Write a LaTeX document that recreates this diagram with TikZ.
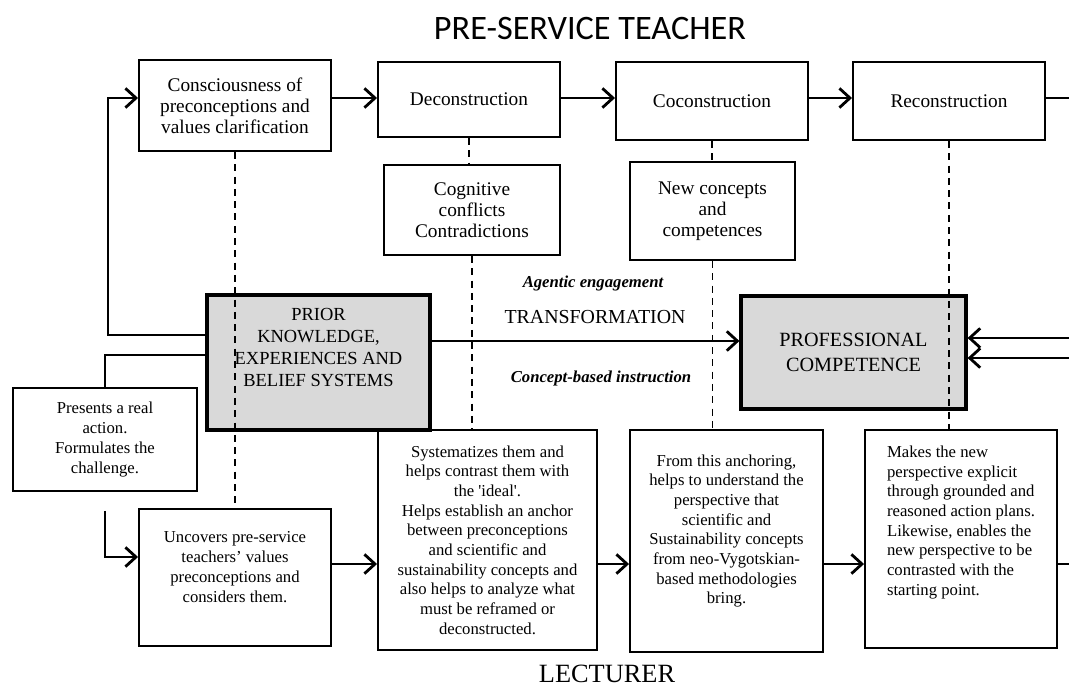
\documentclass[tikz,border=0pt]{standalone}
\usepackage{fontspec}
\setmainfont{Liberation Serif}
\newfontfamily\titlefont{Carlito}
\usetikzlibrary{arrows.meta}
\newlength{\pxu}
\setlength{\pxu}{0.02cm}
\newcommand{\lowpad}[1]{\rule[-#1]{0pt}{#1}}
\definecolor{boxgray}{RGB}{217,217,217}
\tikzset{
    dims/.style n args={2}{minimum width=#1\pxu, minimum height=#2\pxu}
}
\begin{document}
\begin{tikzpicture}[
    x=0.02cm, y=-0.02cm,
    box/.style={rectangle, draw, line width=1.1pt, inner sep=0pt, align=center, font=\fontsize{11}{12}\selectfont},
    note/.style={box, font=\fontsize{9.5}{11.2}\selectfont},
    core/.style={box, fill=boxgray, line width=1.8pt},
    flow/.style={line width=1.6pt, -{Straight Barb[length=6pt,width=11pt]}},
    link/.style={line width=1.6pt},
    guide/.style={line width=0.8pt, dash pattern=on 4pt off 3pt},
    tag/.style={font=\bfseries\itshape\fontsize{9.5}{11}\selectfont}
]
\useasboundingbox (0,0) rectangle (1069,690);

\node[font=\titlefont\fontsize{19.5}{22}\selectfont] (title) at (590,28) {PRE-SERVICE TEACHER};

\node[box, dims={192}{91}] (consc) at (235,105.5) {Consciousness of\\preconceptions and\\values clarification};
\node[box, dims={182}{75}] (decon) at (469,99.5) {Deconstruction};
\node[box, dims={192}{78}] (cocon) at (712,101) {Coconstruction};
\node[box, dims={192}{78}] (recon) at (949,101) {Reconstruction};
\node[box, dims={176}{90}] (cogn) at (472,210) {Cognitive\\conflicts\\Contradictions};
\node[box, dims={165}{98}] (newc) at (712.5,211) {New concepts\\and\\competences};

\node[core, dims={223}{135}, font=\fontsize{10.5}{12.5}\selectfont] (prior) at (318.5,362.5)
    {PRIOR\\KNOWLEDGE,\\EXPERIENCES AND\\BELIEF SYSTEMS\lowpad{17pt}};
\node[core, dims={225}{113}, font=\fontsize{11.5}{14}\selectfont] (prof) at (853.5,352.5)
    {PROFESSIONAL\\COMPETENCE};

\node[tag] (agent) at (593,283) {Agentic engagement};
\node[font=\fontsize{11.3}{13}\selectfont] (transf) at (595,317) {TRANSFORMATION};
\node[tag] (instr) at (601,378) {Concept-based instruction};

\node[note, dims={184}{103}] (real) at (105,439.5) {Presents a real\\action.\\Formulates the\\challenge.};
\node[note, dims={192}{137}] (uncov) at (235,577.5)
    {Uncovers pre-service\\teachers’ values\\preconceptions and\\considers them.\lowpad{12pt}};
\node[note, dims={219}{220}] (syst) at (487.5,540)
    {Systematizes them and\\helps contrast them with\\the \textquotesingle ideal\textquotesingle.\\Helps establish an anchor\\between preconceptions\\and scientific and\\sustainability concepts and\\also helps to analyze what\\must be reframed or\\deconstructed.};
\node[note, dims={193}{222}] (from) at (726.5,541)
    {From this anchoring,\\helps to understand the\\perspective that\\scientific and\\Sustainability concepts\\from neo-Vygotskian-\\based methodologies\\bring.\lowpad{13.5pt}};
\node[note, align=left, dims={192}{218}] (makes) at (961,539)
    {Makes the new\\perspective explicit\\through grounded and\\reasoned action plans.\\Likewise, enables the\\new perspective to be\\contrasted with the\\starting point.\lowpad{21pt}};

\node[font=\fontsize{15}{17}\selectfont, inner sep=1pt] (lect) at (607,674) {LECTURER};

\coordinate (topln) at (0,98);
\coordinate (mainln) at (0,341);
\coordinate (lowln) at (0,564);
\coordinate (unci) at (0,557);
\coordinate (fbtop) at (0,335);
\coordinate (fbbot) at (0,355);
\coordinate (fbx) at (108,0);
\coordinate (rim) at (1069,0);
\coordinate (profa) at (0,338);
\coordinate (profb) at (0,358);

\draw[flow] (consc.east |- topln) -- (decon.west |- topln);
\draw[flow] (decon.east |- topln) -- (cocon.west |- topln);
\draw[flow] (cocon.east |- topln) -- (recon.west |- topln);
\draw[link] (recon.east |- topln) -- (rim |- topln);

\draw[flow] (prior.east |- mainln) -- (prof.west |- mainln);
\draw[flow] (prior.west |- fbtop) -| (fbx |- topln) -- (consc.west |- topln);
\draw[link] (prior.west |- fbbot) -| (real.north);
\draw[flow] ([yshift=-19\pxu]real.south) |- (uncov.west |- unci);
\draw[flow] (rim |- profa) -- (prof.east |- profa);
\draw[flow] (rim |- profb) -- (prof.east |- profb);

\draw[flow] (uncov.east |- lowln) -- (syst.west |- lowln);
\draw[flow] (syst.east |- lowln) -- (from.west |- lowln);
\draw[flow] (from.east |- lowln) -- (makes.west |- lowln);
\draw[link] (makes.east |- lowln) -- (rim |- lowln);

\draw[guide] (consc.south) -- (uncov.north);
\draw[guide] (decon.south) -- (decon.south |- cogn.north);
\draw[guide] (cogn.south) -- (cogn.south |- syst.north);
\draw[guide] (cocon.south) -- (cocon.south |- newc.north);
\draw[guide] (newc.south) -- (newc.south |- from.north);
\draw[guide, line width=1.3pt] (recon.south) -- (recon.south |- makes.north);
\end{tikzpicture}
\end{document}
